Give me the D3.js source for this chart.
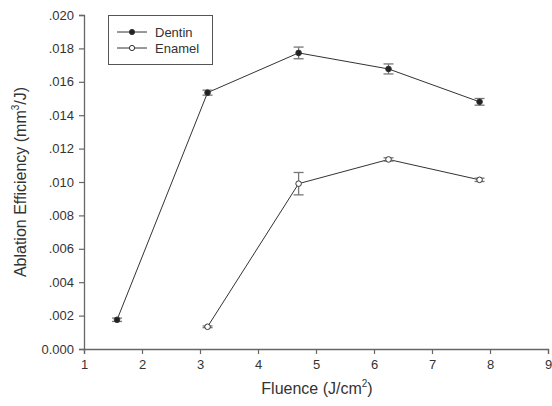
<!DOCTYPE html>
<html>
<head>
<meta charset="utf-8">
<script src="https://cdn.jsdelivr.net/npm/d3@7"></script>
<style>
  body { margin: 0; background: #fff; }
  text { font-family: "Liberation Sans", Arial, sans-serif; fill: #333; }
</style>
</head>
<body>
<svg width="552" height="406"></svg>
<script>
// fluence values (J/cm2)
var dentinX = [1.57, 3.13, 4.70, 6.25, 7.82];
var dentinY = [0.00175, 0.01535, 0.01773, 0.01677, 0.01480];
var dentinErr = [0.00010, 0.00015, 0.00035, 0.00030, 0.00020];

var enamelX = [3.13, 4.70, 6.25, 7.82];
var enamelY = [0.00133, 0.00990, 0.01135, 0.01013];
var enamelErr = [0.00005, 0.00067, 0.00010, 0.00010];

var xTicks = [1, 2, 3, 4, 5, 6, 7, 8, 9];
var yTicks = [0, 0.002, 0.004, 0.006, 0.008, 0.010, 0.012, 0.014, 0.016, 0.018, 0.020];

var svg = d3.select("svg");
var margins = {top: 15, right: 4, bottom: 57, left: 84};
var width = 552, height = 406;

var x = d3.scaleLinear().domain([1, 9]).range([margins.left, width - margins.right]);
var y = d3.scaleLinear().domain([0, 0.020]).range([height - margins.bottom, margins.top]);

var axisColor = "#666";

var yFmt = function(d){
  if (d === 0) return "0.000";
  return d3.format(".3f")(d).replace(/^0/, "");
};

var gx = svg.append("g")
  .attr("transform", "translate(0," + (height - margins.bottom) + ")")
  .call(d3.axisBottom(x).tickValues(xTicks).tickSize(5).tickPadding(6).tickFormat(d3.format("d")));
var gy = svg.append("g")
  .attr("transform", "translate(" + margins.left + ",0)")
  .call(d3.axisLeft(y).tickValues(yTicks).tickSize(5).tickPadding(5).tickFormat(yFmt));

[gx, gy].forEach(function(g){
  g.select(".domain").attr("stroke", axisColor).attr("stroke-width", 1.3);
  g.selectAll(".tick line").attr("stroke", axisColor).attr("stroke-width", 1.2);
  g.selectAll(".tick text").attr("fill", "#333")
    .style("font-family", "'Liberation Sans', Arial, sans-serif").style("font-size", "13px");
});

// axis titles
var xt = svg.append("text")
  .attr("x", 317).attr("y", 394)
  .attr("text-anchor", "middle")
  .style("font-size", "16px");
xt.append("tspan").text("Fluence (J/cm");
xt.append("tspan").attr("dy", -7).style("font-size", "10px").text("2");
xt.append("tspan").attr("dy", 7).text(")");

var yt = svg.append("text")
  .attr("transform", "translate(26," + 182 + ") rotate(-90)")
  .attr("text-anchor", "middle")
  .style("font-size", "16px");
yt.append("tspan").text("Ablation Efficiency (mm");
yt.append("tspan").attr("dy", -7).style("font-size", "10px").text("3");
yt.append("tspan").attr("dy", 7).text("/J)");

var line = d3.line()
  .x(function(d){ return x(d.x); })
  .y(function(d){ return y(d.y); });

function drawSeries(xs, ys, errs, filled){
  var pts = xs.map(function(v, i){ return {x: v, y: ys[i], e: errs[i]}; });
  svg.append("path")
    .datum(pts)
    .attr("d", line)
    .attr("fill", "none")
    .attr("stroke", "#333")
    .attr("stroke-width", 1);

  var eb = svg.append("g").selectAll("g").data(pts).enter().append("g")
    .attr("stroke", "#777").attr("stroke-width", 1.3);
  eb.append("line")
    .attr("x1", function(d){ return x(d.x); }).attr("x2", function(d){ return x(d.x); })
    .attr("y1", function(d){ return y(d.y - d.e); }).attr("y2", function(d){ return y(d.y + d.e); });
  eb.append("line")
    .attr("x1", function(d){ return x(d.x) - 5; }).attr("x2", function(d){ return x(d.x) + 5; })
    .attr("y1", function(d){ return y(d.y + d.e); }).attr("y2", function(d){ return y(d.y + d.e); });
  eb.append("line")
    .attr("x1", function(d){ return x(d.x) - 5; }).attr("x2", function(d){ return x(d.x) + 5; })
    .attr("y1", function(d){ return y(d.y - d.e); }).attr("y2", function(d){ return y(d.y - d.e); });

  svg.append("g").selectAll("circle").data(pts).enter().append("circle")
    .attr("cx", function(d){ return x(d.x); })
    .attr("cy", function(d){ return y(d.y); })
    .attr("r", 2.8)
    .attr("fill", filled ? "#222" : "#fff")
    .attr("stroke", "#333")
    .attr("stroke-width", 1);
}

drawSeries(dentinX, dentinY, dentinErr, true);
drawSeries(enamelX, enamelY, enamelErr, false);

// legend
var lg = svg.append("g");
lg.append("rect")
  .attr("x", 108.5).attr("y", 15.5).attr("width", 104).attr("height", 49)
  .attr("fill", "#fff").attr("stroke", "#555").attr("stroke-width", 1);
var legendItems = [{name: "Dentin", filled: true, y: 32}, {name: "Enamel", filled: false, y: 48}];
legendItems.forEach(function(it){
  lg.append("line").attr("x1", 117).attr("x2", 147).attr("y1", it.y).attr("y2", it.y)
    .attr("stroke", "#333").attr("stroke-width", 1);
  lg.append("circle").attr("cx", 132).attr("cy", it.y).attr("r", 2.6)
    .attr("fill", it.filled ? "#222" : "#fff").attr("stroke", "#333");
  lg.append("text").attr("x", 155).attr("y", it.y + 5)
    .style("font-size", "13px").text(it.name);
});
</script>
</body>
</html>
